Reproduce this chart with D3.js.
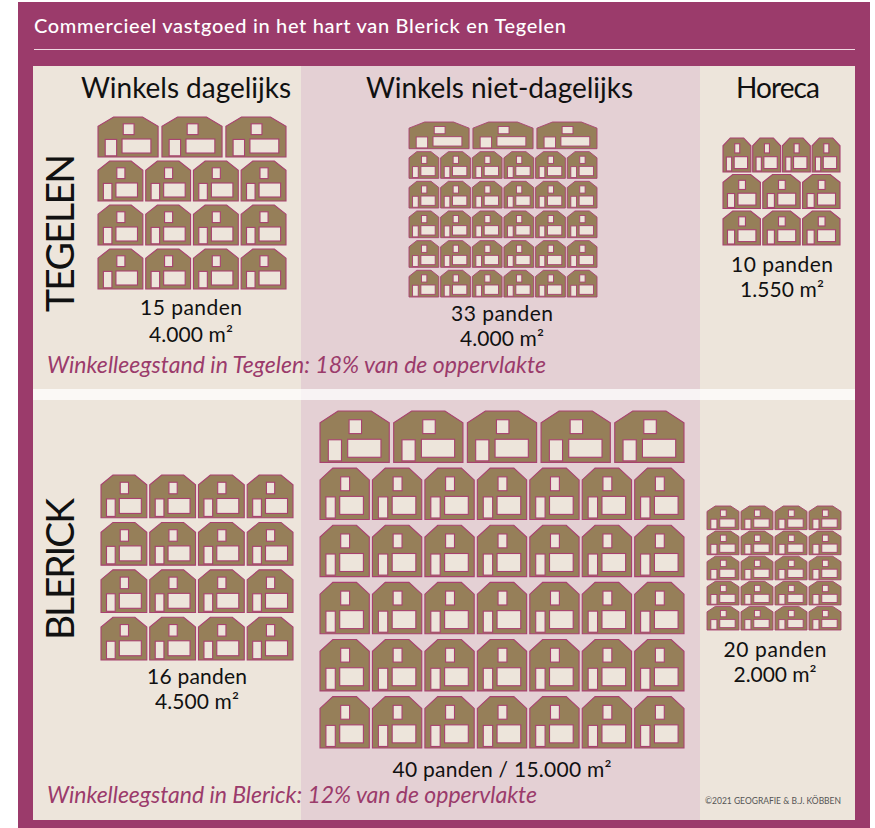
<!DOCTYPE html>
<meta charset="utf-8">
<script src="https://d3js.org/d3.v7.min.js"></script>
<style>
body {margin: 0; background: #fff;}
text {font-family: Lato, sans-serif;}
</style>
<body>
<div id="chart"></div>
<script>
// values
var title = "Commercieel vastgoed in het hart van Blerick en Tegelen";
var columns = ["Winkels dagelijks", "Winkels niet-dagelijks", "Horeca"];
var towns = ["TEGELEN", "BLERICK"];
var vacancy = ["Winkelleegstand in Tegelen: 18% van de oppervlakte", "Winkelleegstand in Blerick: 12% van de oppervlakte"];
var credit = "©2021  GEOGRAFIE & B.J. KÖBBEN";

// houses per row, one list per block
var rowsTegelenDag = [3, 4, 4, 4];
var rowsTegelenNiet = [3, 6, 6, 6, 6, 6];
var rowsTegelenHoreca = [4, 3, 3];
var rowsBlerickDag = [4, 4, 4, 4];
var rowsBlerickNiet = [5, 7, 7, 7, 7, 7];
var rowsBlerickHoreca = [4, 4, 4, 4, 4];
var blockRows = [rowsTegelenDag, rowsTegelenNiet, rowsTegelenHoreca, rowsBlerickDag, rowsBlerickNiet, rowsBlerickHoreca];

var panden = ["15 panden", "33 panden", "10 panden", "16 panden", "40 panden / 15.000 m²", "20 panden"];
var areas = ["4.000 m²", "4.000 m²", "1.550 m²", "4.500 m²", "", "2.000 m²"];

// drawing extents of each grid
var boxes = [
  {x: [98, 286], y: [117, 289], pad: 0.09},
  {x: [409, 597], y: [122, 297], pad: 0.1},
  {x: [723, 840], y: [138, 245], pad: 0.07},
  {x: [101, 293], y: [475, 660], pad: 0.1},
  {x: [320, 684], y: [411, 748], pad: 0.1},
  {x: [707, 841], y: [506, 630], pad: 0.06}
];
var labels = [
  {x: 191, y: [315, 342], w: [102, 84]},
  {x: 502, y: [321, 346], w: [102, 84]},
  {x: 782, y: [272, 297], w: [102, 84]},
  {x: 197, y: [684, 709], w: [100, 84]},
  {x: 502, y: [777, 0], w: [219, 0]},
  {x: 775, y: [657, 682], w: [103, 83]}
];

var svg = d3.select("#chart").append("svg").attr("width", 875).attr("height", 828);

svg.append("rect").attr("x", 18).attr("y", 2).attr("width", 852).attr("height", 826).attr("fill", "#9b3b6b");
svg.append("rect").attr("x", 33).attr("y", 66).attr("width", 822).attr("height", 754).attr("fill", "#ede5db");
svg.append("rect").attr("x", 301).attr("y", 66).attr("width", 399).attr("height", 754).attr("fill", "#e4d0d4");
svg.append("rect").attr("x", 33).attr("y", 389).attr("width", 822).attr("height", 11).attr("fill", "#fff").attr("opacity", 0.75);

svg.append("text").attr("x", 34).attr("y", 33).attr("fill", "#fff").attr("font-size", 20).attr("font-weight", 500)
  .attr("textLength", 532).text(title);
svg.append("line").attr("x1", 34).attr("x2", 855).attr("y1", 49.5).attr("y2", 49.5).attr("stroke", "#efd9e2");

// column headers
var headX = [186, 499.5, 778];
var headW = [210, 267, 84];
svg.selectAll(".head").data(columns).join("text")
  .attr("class", "head").attr("x", (d, i) => headX[i] - headW[i] / 2).attr("y", 98)
  .attr("textLength", (d, i) => headW[i])
  .attr("font-size", 28).attr("fill", "#111").text(d => d);

// town names, turned
var townY = [312, 640];
var townW = [158, 142];
svg.selectAll(".town").data(towns).join("text")
  .attr("class", "town")
  .attr("transform", (d, i) => "translate(74," + townY[i] + ") rotate(-90)")
  .attr("textLength", (d, i) => townW[i])
  .attr("font-size", 39).attr("fill", "#111").text(d => d);

var vacY = [373, 803];
var vacW = [499, 490];
svg.selectAll(".vac").data(vacancy).join("text")
  .attr("class", "vac").attr("x", 47).attr("y", (d, i) => vacY[i])
  .attr("textLength", (d, i) => vacW[i])
  .attr("font-size", 23).attr("font-style", "italic").attr("fill", "#9b3b6b").text(d => d);

svg.append("text").attr("x", 705).attr("y", 804).attr("font-size", 8.5).attr("fill", "#555")
  .attr("textLength", 136).text(credit);

// one house, drawn as fractions of its band
function house(g, w, h, sw) {
  var outline = [[0, 1], [0, 0.23], [0.26, 0], [0.74, 0], [1, 0.23], [1, 1]];
  g.append("path")
    .attr("d", d3.line().x(d => d[0] * w).y(d => d[1] * h)(outline) + "Z")
    .attr("fill", "#967f59").attr("stroke", "#a8416f").attr("stroke-width", sw);
  var win = [
    [0.42, 0.17, 0.18, 0.27],
    [0.12, 0.56, 0.19, 0.41],
    [0.40, 0.55, 0.48, 0.35]
  ];
  win.forEach(function(r) {
    g.append("rect").attr("x", r[0] * w).attr("y", r[1] * h).attr("width", r[2] * w).attr("height", r[3] * h)
      .attr("fill", "#ede5db").attr("stroke", "#a8416f").attr("stroke-width", sw);
  });
}

boxes.forEach(function(b, i) {
  var rows = blockRows[i];
  var y = d3.scaleBand().domain(d3.range(rows.length)).range(b.y).paddingInner(b.pad);
  rows.forEach(function(n, r) {
    var x = d3.scaleBand().domain(d3.range(n)).range(b.x).paddingInner(0.06);
    d3.range(n).forEach(function(c) {
      var g = svg.append("g").attr("transform", "translate(" + x(c) + "," + y(r) + ")");
      house(g, x.bandwidth(), y.bandwidth(), y.bandwidth() > 30 ? 1.1 : 0.9);
    });
  });
  var l = labels[i];
  svg.append("text").attr("x", l.x - l.w[0] / 2).attr("y", l.y[0]).attr("textLength", l.w[0])
    .attr("font-size", 21).attr("fill", "#111").text(panden[i]);
  if (areas[i]) svg.append("text").attr("x", l.x - l.w[1] / 2).attr("y", l.y[1]).attr("textLength", l.w[1])
    .attr("font-size", 21).attr("fill", "#111").text(areas[i]);
});
</script>
</body>
</html>
